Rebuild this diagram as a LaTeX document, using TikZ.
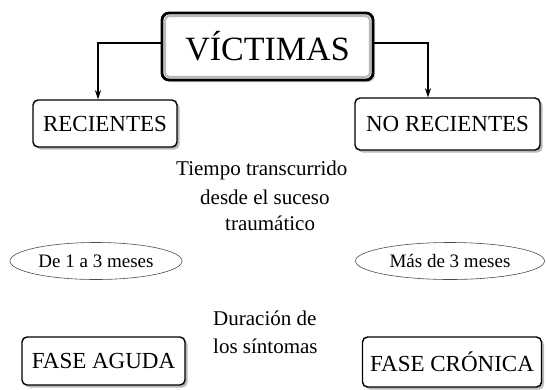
\documentclass[tikz,border=0pt]{standalone}
\usepackage{fontspec}
\setmainfont{Liberation Serif}
\usetikzlibrary{arrows.meta,shapes.geometric,shadows}
\begin{document}
\begin{tikzpicture}[x=1pt,y=-1pt,
  box/.style={draw, line width=1.4pt, rounded corners=5pt, fill=white, inner sep=0pt,
    font=\fontsize{23}{26}\selectfont,
    drop shadow={shadow xshift=2.5pt, shadow yshift=-2.5pt, fill=gray!55, opacity=1}},
  bigbox/.style={draw, line width=2.8pt, rounded corners=7pt, fill=white, inner sep=0pt,
    font=\fontsize{34}{38}\selectfont,
    drop shadow={shadow xshift=2pt, shadow yshift=-2pt, fill=gray!45, opacity=1}},
  bevel/.style={draw=gray!55, line width=2pt, rounded corners=4pt},
  ell/.style={draw=black!70, line width=0.6pt, ellipse, inner sep=0pt,
    font=\fontsize{19}{22}\selectfont},
  mid/.style={inner sep=0pt, font=\fontsize{21}{24}\selectfont},
  arr/.style={line width=1.8pt, -{Stealth[length=9pt,width=6pt]}}]
\useasboundingbox (0,0) rectangle (546,389);
% main box
\node[bigbox, minimum width=211pt, minimum height=67pt] (vic) at (267.5,46.5) {VÍCTIMAS};
\draw[bevel] ([xshift=4.5pt,yshift=-4.5pt]vic.north west) rectangle ([xshift=-4.5pt,yshift=4.5pt]vic.south east);
% level 2
\node[box, minimum width=144pt, minimum height=47pt] (rec) at (105,123.5) {RECIENTES};
\node[box, minimum width=185pt, minimum height=52pt] (norec) at (447.5,124) {NO RECIENTES};
% connectors
\draw[arr] ([yshift=3.5pt]vic.west) -| ([xshift=-7pt]rec.north);
\draw[arr] ([yshift=3.5pt]vic.east) -| ([xshift=-19.5pt]norec.north);
% middle text
\node[mid, anchor=base west] (t1) at (176,175) {Tiempo transcurrido};
\node[mid, anchor=base west] (t2) at (200,204) {desde el suceso};
\node[mid, anchor=base west] (t3) at (225,230) {traumático};
% ellipses
\node[ell, minimum width=172pt, minimum height=37pt] (e1) at (96,261) {De 1 a 3 meses};
\node[ell, minimum width=189pt, minimum height=37pt] (e2) at (450,261) {Más de 3 meses};
% second middle text
\node[mid, anchor=base west] (d1) at (213,325) {Duración de};
\node[mid, anchor=base west] (d2) at (213,353) {los síntomas};
% bottom boxes
\node[box, minimum width=163pt, minimum height=48pt] (aguda) at (103.5,361) {FASE AGUDA};
\node[box, minimum width=179pt, minimum height=50pt] (cronica) at (452,362) {FASE CRÓNICA};
\end{tikzpicture}
\end{document}
